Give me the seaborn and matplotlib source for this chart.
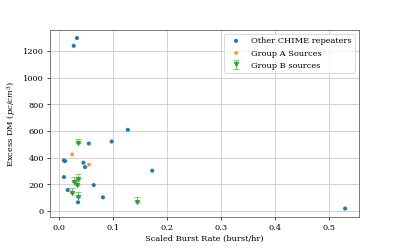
import numpy as np
import pandas as pd
import matplotlib
matplotlib.use("Agg")
import matplotlib.pyplot as plt
import seaborn as sns

# Datos
other_rate = [0.034, 0.028, 0.128, 0.098, 0.056, 0.010, 0.012, 0.046, 0.049,
              0.173, 0.010, 0.017, 0.065, 0.082, 0.036, 0.529]
other_dm = [1297, 1239, 609, 521, 506, 379, 374, 362, 329,
            302, 254, 157, 194, 102, 65, 18]

groupA_rate = [0.025, 0.056]
groupA_dm = [424, 347]

groupB_rate = [0.036, 0.028, 0.036, 0.034, 0.024, 0.036, 0.144]
groupB_dm = [506, 217, 237, 192, 132, 108, 70]
groupB_err = [36, 36, 38, 36, 38, 36, 38]

plt.rcParams["font.family"] = ["DejaVu Serif"]
plt.rcParams["mathtext.fontset"] = "dejavuserif"
plt.rcParams["font.size"] = 9.6

df_other = pd.DataFrame({"rate": other_rate, "dm": other_dm})
df_a = pd.DataFrame({"rate": groupA_rate, "dm": groupA_dm})

fig = plt.figure(figsize=(6.4, 4), dpi=62.35)
ax = fig.add_axes([0.125, 0.128, 0.775, 0.752])

sns.scatterplot(data=df_other, x="rate", y="dm", color="#1f77b4", s=22,
                edgecolor="none", label="Other CHIME repeaters", ax=ax, zorder=3)
sns.scatterplot(data=df_a, x="rate", y="dm", color="#ff7f0e", marker="*", s=45,
                edgecolor="none", label="Group A Sources", ax=ax, zorder=3)
ax.errorbar(groupB_rate, groupB_dm, yerr=[np.zeros(len(groupB_err)), groupB_err],
            fmt="v", color="#2ca02c", ecolor="#7cc47c", markersize=5,
            capsize=3, elinewidth=1.2, label="Group B sources", zorder=3)

ax.set_xlabel("Scaled Burst Rate (burst/hr)")
ax.set_ylabel("Excess DM ($pc/cm^3$)")
ax.grid(True, color="#cccccc", linewidth=1.0)
ax.set_axisbelow(True)
for s in ax.spines.values():
    s.set_color("#444444")
ax.legend(loc="upper right")

fig.savefig("out.png", dpi=62.35)
